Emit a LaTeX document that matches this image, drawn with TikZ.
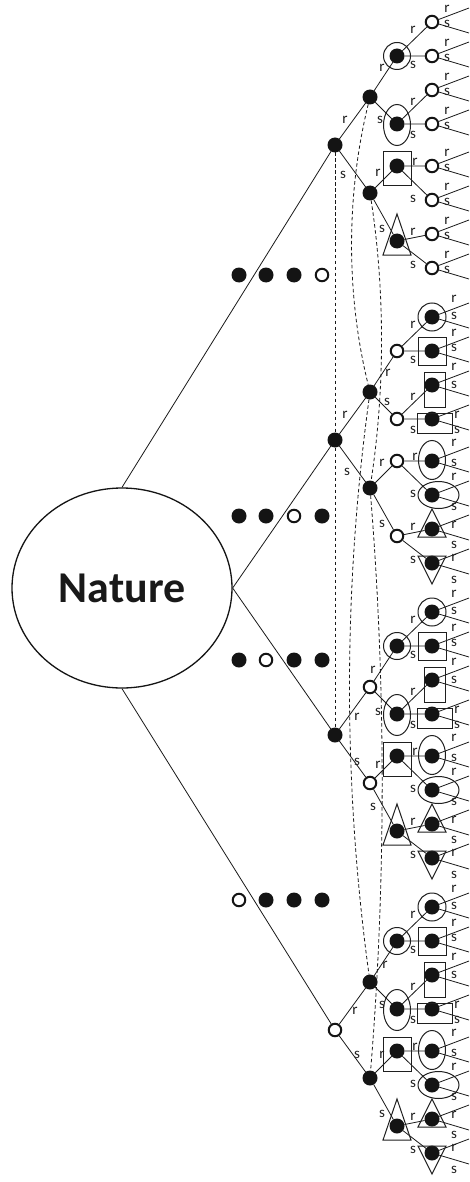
\documentclass[tikz,border=0pt]{standalone}
\usepackage{fontspec}
\setmainfont{Carlito}
\usetikzlibrary{shapes.geometric}
\tikzset{
  fnode/.style={circle, fill=black!92, draw=none, minimum size=15pt, inner sep=0pt, outer sep=0pt},
  onode/.style={circle, fill=white, draw=black!92, line width=2pt, minimum size=12.5pt, inner sep=0pt, outer sep=1pt},
  tedge/.style={line width=0.8pt, draw=black!90},
  shp/.style={line width=1pt, draw=black!88},
  info/.style={line width=0.8pt, draw=black!90, dash pattern=on 3.5pt off 2.5pt},
  lbl/.style={font=\fontsize{15}{15}\selectfont, text=black!88, inner sep=0pt},
  nat/.style={ellipse, draw=black!92, line width=1.3pt, minimum width=220pt, minimum height=200pt, inner sep=0pt, text=black!90, font=\bfseries\fontsize{44}{44}\selectfont},
}
\newcounter{lc}
\newcommand\lab[3]{\stepcounter{lc}\node[lbl] (lab\the\value{lc}) at (#1,#2) {#3};}
\newcommand\leaves[2]{%
  \coordinate (#1A) at (469,#2-14);
  \coordinate (#1B) at (469,#2+11);
  \draw[tedge] (#1A) -- (#1) -- (#1B);}
\newcommand\subtree[6]{%
  \node[#3] (#1) at (335,#2) {};
  \node[#4] (#1r) at (370,#2-48) {};
  \node[#4] (#1s) at (370,#2+48) {};
  \node[#5] (#1rr) at (397,#2-89) {};
  \node[#5] (#1rs) at (397,#2-21) {};
  \node[#5] (#1sr) at (397,#2+21) {};
  \node[#5] (#1ss) at (397,#2+96) {};
  \node[#6] (#1rrr) at (432,#2-123) {};
  \node[#6] (#1rrs) at (432,#2-89) {};
  \node[#6] (#1rsr) at (432,#2-55) {};
  \node[#6] (#1rss) at (432,#2-21) {};
  \node[#6] (#1srr) at (432,#2+21) {};
  \node[#6] (#1srs) at (432,#2+55) {};
  \node[#6] (#1ssr) at (432,#2+89) {};
  \node[#6] (#1sss) at (432,#2+123) {};
  \draw[tedge] (#1r) -- (#1) -- (#1s);
  \draw[tedge] (#1rr) -- (#1r) -- (#1rs);
  \draw[tedge] (#1sr) -- (#1s) -- (#1ss);
  \draw[tedge] (#1rrr) -- (#1rr) -- (#1rrs);
  \draw[tedge] (#1rsr) -- (#1rs) -- (#1rss);
  \draw[tedge] (#1srr) -- (#1sr) -- (#1srs);
  \draw[tedge] (#1ssr) -- (#1ss) -- (#1sss);
  \leaves{#1rrr}{#2-123}\leaves{#1rrs}{#2-89}\leaves{#1rsr}{#2-55}\leaves{#1rss}{#2-21}%
  \leaves{#1srr}{#2+21}\leaves{#1srs}{#2+55}\leaves{#1ssr}{#2+89}\leaves{#1sss}{#2+123}%
  \lab{413}{#2-115}{r}\lab{413}{#2-80}{s}%
  \lab{413}{#2-43}{r}\lab{413}{#2-10}{s}%
  \lab{415}{#2+17}{r}\lab{413}{#2+54}{s}%
  \lab{413}{#2+87}{r}\lab{413}{#2+120}{s}%
}
\newcommand\lthree[1]{%
  \draw[shp] (397,#1-89) circle (13.5pt);
  \draw[shp] (397,#1-20) ellipse (13.5pt and 20.5pt);
  \draw[shp] (383,#1+7) rectangle (411,#1+41);
  \draw[shp] (397,#1+69) -- (411,#1+110) -- (383,#1+110) -- cycle;
}
\newcommand\lfour[1]{%
  \draw[shp] (432,#1-123) circle (14pt);
  \draw[shp] (418,#1-103) rectangle (446,#1-75);
  \draw[shp] (424,#1-68) rectangle (445,#1-33);
  \draw[shp] (417,#1-27) rectangle (452,#1-7);
  \draw[shp] (432,#1+20) ellipse (13.5pt and 19.5pt);
  \draw[shp] (438.5,#1+55) ellipse (20.5pt and 13.5pt);
  \draw[shp] (432,#1+69) -- (446,#1+97) -- (418,#1+97) -- cycle;
  \draw[shp] (418,#1+116) -- (446,#1+116) -- (432,#1+144) -- cycle;
  \lab{454}{#1-141}{r}\lab{454}{#1-124}{s}%
  \lab{454}{#1-107}{r}\lab{454}{#1-92}{s}%
  \lab{454}{#1-73}{r}\lab{454}{#1-55}{s}%
  \lab{457}{#1-25}{r}\lab{457}{#1-10}{s}%
  \lab{454}{#1+3}{r}\lab{454}{#1+23}{s}%
  \lab{454}{#1+37}{r}\lab{454}{#1+67}{s}%
  \lab{454}{#1+85}{r}\lab{454}{#1+105}{s}%
  \lab{454}{#1+118}{r}\lab{454}{#1+140}{s}%
}
\begin{document}
\begin{tikzpicture}[x=1pt,y=-1pt]
\useasboundingbox (0,0) rectangle (469,1182);
\fill[white] (0,0) rectangle (469,1182);

\node[nat] (Nature) at (122,588) {Nature};

\subtree{Ta}{145}{fnode}{fnode}{fnode}{onode}
\subtree{Tb}{440}{fnode}{fnode}{onode}{fnode}
\subtree{Tc}{735}{fnode}{onode}{fnode}{fnode}
\subtree{Td}{1030}{onode}{fnode}{fnode}{fnode}

\lthree{145}\lthree{735}\lthree{1030}
\lfour{440}\lfour{735}\lfour{1030}

% open leaf labels of first subtree
\foreach \o in {-123,-89,-55,-21,21,55,89,123}{%
  \lab{447}{145+\o-13}{r}\lab{447}{145+\o+2}{s}}

% first and second level labels
\lab{345}{120}{r}\lab{343}{175}{s}
\lab{345}{415}{r}\lab{347}{472}{s}
\lab{357}{717}{r}\lab{357}{762}{s}
\lab{355}{1011}{r}\lab{357}{1055}{s}

\lab{382}{68}{r}\lab{380}{120}{s}\lab{378}{173}{r}\lab{382}{229}{s}
\lab{388}{373}{r}\lab{387}{402}{s}\lab{382}{463}{r}\lab{382}{524}{s}
\lab{373}{670}{r}\lab{378}{712}{s}\lab{378}{765}{r}\lab{373}{807}{s}
\lab{385}{965}{r}\lab{382}{1005}{s}\lab{382}{1055}{r}\lab{382}{1114}{s}

% Nature connectors
\draw[tedge] (Nature.north) -- (Ta);
\draw[tedge] (Nature.east) -- (Tb);
\draw[tedge] (Nature.east) -- (Tc);
\draw[tedge] (Nature.south) -- (Td);

% information sets
\draw[info] (Ta) -- (Tb) -- (Tc);
\draw[info] (Tar) .. controls (346,195) and (346,295) .. (Tbr);
\draw[info] (Tas) .. controls (385,290) and (385,390) .. (Tbs);
\draw[info] (Tbr) .. controls (343,590) and (343,785) .. (Tdr);
\draw[info] (Tbs) .. controls (386,685) and (386,883) .. (Tds);

% dot rows
\node[fnode] (d11) at (239,275) {};\node[fnode] (d12) at (266,275) {};
\node[fnode] (d13) at (294,275) {};\node[onode] (d14) at (322,275) {};
\node[fnode] (d21) at (239,516) {};\node[fnode] (d22) at (266,516) {};
\node[onode] (d23) at (294,516) {};\node[fnode] (d24) at (322,516) {};
\node[fnode] (d31) at (239,660) {};\node[onode] (d32) at (266,660) {};
\node[fnode] (d33) at (294,660) {};\node[fnode] (d34) at (322,660) {};
\node[onode] (d41) at (239,900) {};\node[fnode] (d42) at (266,900) {};
\node[fnode] (d43) at (294,900) {};\node[fnode] (d44) at (322,900) {};
\end{tikzpicture}
\end{document}
